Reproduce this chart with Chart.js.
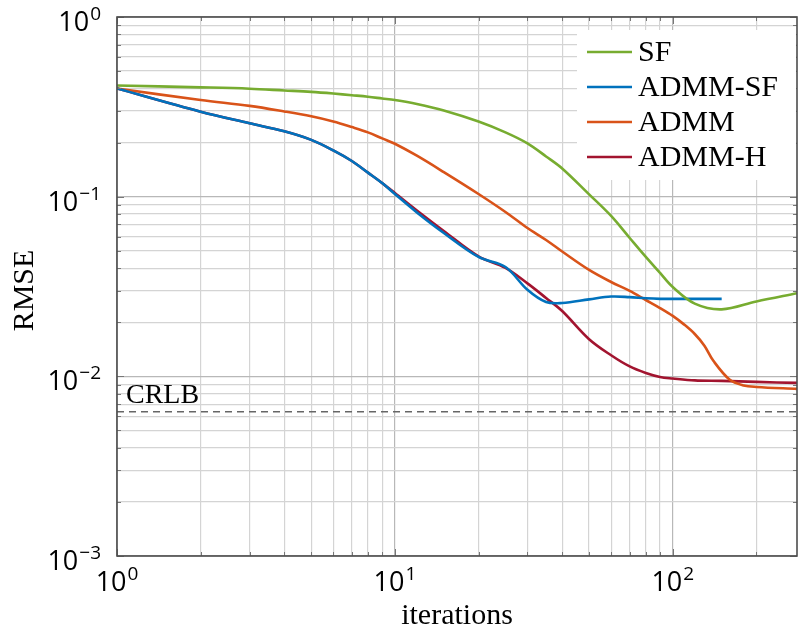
<!DOCTYPE html>
<html>
<head>
<meta charset="utf-8">
<script src="https://cdn.jsdelivr.net/npm/chart.js@4"></script>
<style>
  html, body { margin: 0; padding: 0; background: #fff; }
</style>
</head>
<body>
<canvas id="chartRmse" width="798" height="633"></canvas>
<script>
// Data (iterations vs RMSE)
const itersSF = [1, 2, 3, 4, 5, 6, 7, 8, 9, 10, 12, 15, 20, 25, 30, 35, 40, 50, 60, 70, 80, 90, 100, 120, 150, 200, 280];
const rmseSF = [0.416, 0.406, 0.399, 0.390, 0.383, 0.375, 0.367, 0.360, 0.352, 0.345, 0.328, 0.302, 0.262, 0.228, 0.198, 0.1674, 0.1435, 0.103, 0.0781, 0.0589, 0.0462, 0.0376, 0.0314, 0.0254, 0.0236, 0.0261, 0.0290];

const itersADMMSF = [1, 2, 3, 4, 5, 6, 7, 8, 9, 10, 12, 15, 20, 25, 30, 35, 40, 50, 60, 70, 80, 90, 100, 120, 150];
const rmseADMMSF = [0.400, 0.297, 0.256, 0.231, 0.207, 0.181, 0.158, 0.136, 0.119, 0.1035, 0.0817, 0.0628, 0.0462, 0.0406, 0.0303, 0.0259, 0.0256, 0.0268, 0.0278, 0.0276, 0.0272, 0.0270, 0.0270, 0.0270, 0.0270];

const itersADMM = [1, 2, 3, 4, 5, 6, 7, 8, 9, 10, 12, 15, 20, 25, 30, 35, 40, 50, 60, 70, 80, 90, 100, 110, 120, 130, 140, 160, 180, 200, 280];
const rmseADMM = [0.400, 0.345, 0.320, 0.298, 0.280, 0.262, 0.244, 0.228, 0.211, 0.197, 0.169, 0.137, 0.1035, 0.0822, 0.0669, 0.0574, 0.0495, 0.0391, 0.0335, 0.0299, 0.0266, 0.0240, 0.0217, 0.0194, 0.0172, 0.0148, 0.0122, 0.00961, 0.00890, 0.00873, 0.00851];

const itersADMMH = [1, 2, 3, 4, 5, 6, 7, 8, 9, 10, 12, 15, 20, 25, 30, 35, 40, 50, 60, 70, 80, 90, 100, 120, 150, 200, 280];
const rmseADMMH = [0.400, 0.297, 0.256, 0.231, 0.207, 0.181, 0.158, 0.136, 0.119, 0.1048, 0.0838, 0.0644, 0.0465, 0.0401, 0.0329, 0.0273, 0.0231, 0.0161, 0.0131, 0.01135, 0.01044, 0.00992, 0.00973, 0.00949, 0.00943, 0.00931, 0.00919];

const crlbIters = [1, 280];
const crlbValue = 0.00636;

const seriesNames = ['SF', 'ADMM-SF', 'ADMM', 'ADMM-H'];
const seriesColors = ['#77AC30', '#0072BD', '#D95319', '#A2142F'];

// Axis limits and decade labels
const xMin = 1, xMax = 280;
const yMin = 0.001, yMax = 1;
const xDecades = [0, 1, 2];
const yDecades = [-3, -2, -1, 0];

const serifFont = '"Liberation Serif", "DejaVu Serif", serif';
const tickFont = '"Open Sans", "DejaVu Sans", sans-serif';

// Build pairs for the line chart
function toPoints(xs, ys) {
    return xs.map((x, i) => ({ x: x, y: ys[i] }));
}

// Tick values 1..9 x 10^k inside [min, max]
function logTicks(min, max) {
    const ticks = [];
    for (let e = Math.floor(Math.log10(min)); e <= Math.ceil(Math.log10(max)); e++) {
        for (let m = 1; m <= 9; m++) {
            const v = parseFloat((m * Math.pow(10, e)).toPrecision(6));
            if (v >= min * 0.999999 && v <= max * 1.000001) ticks.push({ value: v });
        }
    }
    return ticks;
}

function isDecade(v) {
    const l = Math.log10(v);
    return Math.abs(l - Math.round(l)) < 1e-6;
}

// Draw "10^exp" with a raised exponent
function drawPower(ctx, exp, x, baseY, align) {
    const base = '10';
    const sup = exp < 0 ? '\u2212' + Math.abs(exp) : String(exp);
    ctx.font = '27px ' + tickFont;
    const wBase = ctx.measureText(base).width;
    ctx.font = '19px ' + tickFont;
    const wSup = ctx.measureText(sup).width;
    const total = wBase + 1 + wSup;
    const left = align === 'right' ? x - total : x - total / 2;
    ctx.fillStyle = '#000';
    ctx.textAlign = 'left';
    ctx.textBaseline = 'alphabetic';
    ctx.font = '27px ' + tickFont;
    ctx.fillText(base, left, baseY);
    ctx.font = '19px ' + tickFont;
    ctx.fillText(sup, left + wBase + 1, baseY - 11);
}

const decorPlugin = {
    id: 'decor',
    afterDraw(chart) {
        const ctx = chart.ctx;
        const area = chart.chartArea;
        const xs = chart.scales.x;
        const ys = chart.scales.y;
        ctx.save();

        // Small inner tick marks on all four sides
        ctx.strokeStyle = '#777';
        ctx.lineWidth = 1;
        xs.ticks.forEach(t => {
            const px = Math.round(xs.getPixelForValue(t.value)) + 0.5;
            const len = isDecade(t.value) ? 7 : 4;
            ctx.beginPath();
            ctx.moveTo(px, area.bottom); ctx.lineTo(px, area.bottom - len);
            ctx.moveTo(px, area.top); ctx.lineTo(px, area.top + len);
            ctx.stroke();
        });
        ys.ticks.forEach(t => {
            const py = Math.round(ys.getPixelForValue(t.value)) + 0.5;
            const len = isDecade(t.value) ? 7 : 4;
            ctx.beginPath();
            ctx.moveTo(area.left, py); ctx.lineTo(area.left + len, py);
            ctx.moveTo(area.right, py); ctx.lineTo(area.right - len, py);
            ctx.stroke();
        });

        // Frame around the plot area
        ctx.strokeStyle = '#4d4d4d';
        ctx.lineWidth = 1.6;
        ctx.strokeRect(area.left, area.top, area.right - area.left, area.bottom - area.top);

        // Tick labels
        yDecades.forEach(e => {
            const py = ys.getPixelForValue(Math.pow(10, e));
            drawPower(ctx, e, 101, py + 14, 'right');
        });
        xDecades.forEach(e => {
            const px = xs.getPixelForValue(Math.pow(10, e));
            drawPower(ctx, e, px, area.bottom + 35, 'center');
        });

        // Axis titles
        ctx.fillStyle = '#000';
        ctx.font = '30px ' + serifFont;
        ctx.textAlign = 'center';
        ctx.textBaseline = 'alphabetic';
        ctx.fillText('iterations', (area.left + area.right) / 2, 624);
        ctx.save();
        ctx.translate(33, (area.top + area.bottom) / 2 + 4);
        ctx.rotate(-Math.PI / 2);
        ctx.fillText('RMSE', 0, 0);
        ctx.restore();

        // CRLB label above the dashed line
        ctx.font = '28px ' + serifFont;
        ctx.textAlign = 'left';
        ctx.fillText('CRLB', area.left + 9, ys.getPixelForValue(crlbValue) - 9);

        // Legend box in the upper right corner
        const boxLeft = 577, boxTop = 30, boxBottom = 180;
        ctx.fillStyle = '#fff';
        ctx.fillRect(boxLeft, boxTop, area.right - boxLeft - 1, boxBottom - boxTop);
        seriesNames.forEach((name, i) => {
            const ly = 52 + i * 35;
            ctx.strokeStyle = seriesColors[i];
            ctx.lineWidth = 2.5;
            ctx.beginPath();
            ctx.moveTo(587, ly);
            ctx.lineTo(632, ly);
            ctx.stroke();
            ctx.fillStyle = '#000';
            ctx.font = '30px ' + serifFont;
            ctx.fillText(name, 638, ly + 9);
        });

        ctx.restore();
    }
};

const seriesData = [
    toPoints(itersSF, rmseSF),
    toPoints(itersADMMSF, rmseADMMSF),
    toPoints(itersADMM, rmseADMM),
    toPoints(itersADMMH, rmseADMMH)
];

const datasets = seriesNames.map((name, i) => ({
    label: name,
    data: seriesData[i],
    borderColor: seriesColors[i],
    backgroundColor: seriesColors[i],
    borderWidth: 2.6,
    pointRadius: 0,
    tension: 0.35,
    fill: false
}));

// CRLB reference line
datasets.push({
    label: 'CRLB',
    data: toPoints(crlbIters, [crlbValue, crlbValue]),
    borderColor: '#666',
    borderWidth: 1.5,
    borderDash: [7, 5],
    pointRadius: 0,
    fill: false
});

const ctxRmse = document.getElementById('chartRmse').getContext('2d');
const rmseChart = new Chart(ctxRmse, {
    type: 'line',
    data: { datasets: datasets },
    options: {
        responsive: false,
        animation: false,
        devicePixelRatio: 1,
        layout: { padding: { left: 117, top: 17, right: 1, bottom: 77 } },
        plugins: {
            legend: { display: false },
            tooltip: { enabled: false }
        },
        scales: {
            x: {
                type: 'logarithmic',
                min: xMin,
                max: xMax,
                afterBuildTicks: (scale) => { scale.ticks = logTicks(xMin, xMax); },
                ticks: { display: false },
                border: { display: false },
                grid: {
                    drawTicks: false,
                    lineWidth: 1.2,
                    color: (c) => isDecade(c.tick.value) ? '#b8b8b8' : '#d4d4d4'
                }
            },
            y: {
                type: 'logarithmic',
                min: yMin,
                max: yMax,
                afterBuildTicks: (scale) => { scale.ticks = logTicks(yMin, yMax); },
                ticks: { display: false },
                border: { display: false },
                grid: {
                    drawTicks: false,
                    lineWidth: 1.2,
                    color: (c) => isDecade(c.tick.value) ? '#b8b8b8' : '#d4d4d4'
                }
            }
        }
    },
    plugins: [decorPlugin]
});
</script>
</body>
</html>
